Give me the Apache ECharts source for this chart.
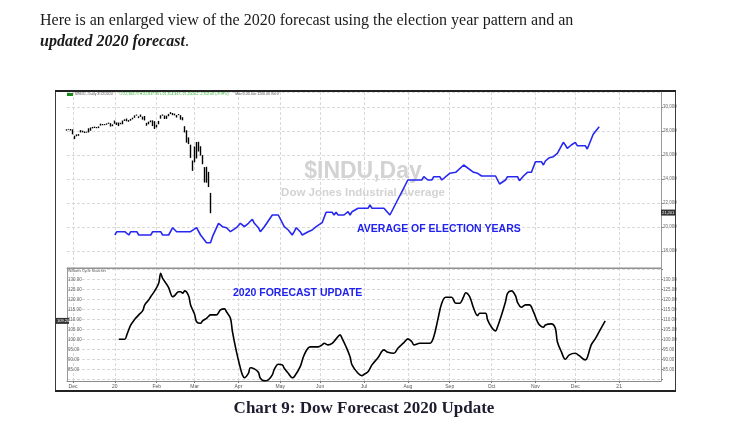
<!DOCTYPE html>
<html><head><meta charset="utf-8">
<script src="https://cdn.jsdelivr.net/npm/echarts@6/dist/echarts.min.js"></script>
<style>html,body{margin:0;padding:0;background:#fff;}#c{width:735px;height:431px;}</style>
</head><body><div id="c"></div>
<script>
// ---------------- DATA ----------------
const monthNames = ['Jan','Feb','Mar','Apr','May','Jun','Jul','Aug','Sep','Oct','Nov','Dec'];
const marketHolidays = ['2019-11-28','2019-12-25','2020-01-01','2020-01-20','2020-02-17','2020-04-10',
  '2020-05-25','2020-07-03','2020-09-07','2020-11-26','2020-12-25','2021-01-01','2021-01-18'];
const axisFirstDay = '2019-11-26';
const axisLastDay = '2021-02-03';
const lastLabelledMonth = '2021-01';

// $INDU daily bars, consecutive trading days starting 2019-11-26
const dowOpen  = [28050,28140,28150,28110,27600,27580,27710,27880,28010,27900,27880,27920,28190,28250,28270,28290,28250,28460,28520,28570,28540,28690,28640,28420,
  28640,28630,28470,28640,28560,28850,29030,28850,28860,28990,29110,29330,29170,29260,29100,29210,28650,28600,28820,28640,28810,
  28320,28560,29050,29300,29280,29020,29360,29420,29440,29440,29280,29330,29270,29150,28400,28000,27150,26530,24980,
  25590,26760,26380,26600,25460,24990,24450,24600,22190];
const dowHigh  = [28145,28175,28165,28140,27610,27720,27740,28070,28030,27960,27950,28225,28290,28340,28370,28330,28380,28610,28580,28580,28630,28700,28650,28550,
  28870,28710,28710,28690,28870,28970,29040,28910,29010,29110,29300,29370,29220,29370,29200,29250,28680,28780,28880,28890,28820,
  28520,28840,29310,29380,29290,29280,29420,29570,29500,29450,29330,29410,29320,29150,28400,28060,27470,26860,25540,
  26710,27080,27100,26730,25990,24990,25020,24600,22840];
const dowLow   = [28030,28110,28035,27720,27325,27560,27600,27880,27890,27830,27860,27880,28020,28220,28250,28230,28240,28450,28480,28490,28520,28600,28370,28400,
  28600,28500,28410,28560,28560,28840,28810,28770,28860,28970,29100,29280,29070,29180,28950,28880,28440,28560,28730,28410,28170,
  28300,28560,29030,29270,29000,29010,29230,29410,29320,29300,29120,29320,28950,28890,27880,27030,26910,25760,24680,
  25390,25710,26290,25950,25230,23710,23690,23330,21150];
const dowClose = [28121,28164,28051,27783,27503,27650,27677,28015,27909,27881,27911,28132,28135,28235,28267,28239,28377,28455,28551,28515,28621,28645,28462,28538,
  28868,28634,28703,28583,28745,28956,28824,28907,28940,29030,29297,29348,29196,29186,29160,28990,28535,28723,28734,28859,28256,
  28399,28808,29290,29380,29103,29276,29276,29551,29423,29398,29232,29348,29219,28992,27961,27081,26957,25766,25409,
  26703,25917,27091,26121,25865,23851,25018,23553,21201];

// Average of election years (plotted on the $INDU scale)
const electionAvg = [
 ['2020-01-02',19333],['2020-01-03',19608],['2020-01-09',19608],['2020-01-13',19333],['2020-01-14',19608],['2020-01-17',19608],
 ['2020-01-21',19333],['2020-01-29',19333],['2020-01-30',19608],['2020-02-05',19608],['2020-02-06',19333],['2020-02-11',19333],
 ['2020-02-13',19942],['2020-02-18',19608],['2020-02-27',19608],['2020-03-03',19942],['2020-03-05',19333],['2020-03-10',18692],
 ['2020-03-12',18692],['2020-03-13',19192],['2020-03-18',20308],['2020-03-19',20308],['2020-03-20',20025],['2020-03-24',19942],
 ['2020-03-26',19608],['2020-03-27',19608],['2020-03-31',19942],['2020-04-02',20308],['2020-04-03',20308],['2020-04-06',20025],
 ['2020-04-08',20308],['2020-04-13',20642],['2020-04-14',20308],['2020-04-16',19942],['2020-04-17',19608],['2020-04-21',20025],
 ['2020-04-27',21000],['2020-04-30',21000],['2020-05-05',20025],['2020-05-07',19750],['2020-05-11',19333],['2020-05-12',19608],
 ['2020-05-13',19942],['2020-05-15',19608],['2020-05-18',19333],['2020-05-21',19608],['2020-05-26',19750],['2020-05-28',20025],
 ['2020-06-02',20358],['2020-06-04',21225],['2020-06-09',21225],['2020-06-10',21000],['2020-06-11',21225],['2020-06-12',21000],
 ['2020-06-17',21000],['2020-06-19',21275],['2020-06-22',21000],['2020-06-23',21275],['2020-06-26',21558],['2020-07-06',21558],
 ['2020-07-07',21833],['2020-07-08',21558],['2020-07-16',21558],['2020-07-21',21000],['2020-07-22',21142],['2020-08-03',23917],
 ['2020-08-04',23917],['2020-08-12',23917],['2020-08-13',24192],['2020-08-17',23917],['2020-08-19',23917],['2020-08-20',24192],
 ['2020-08-25',24192],['2020-08-26',23917],['2020-09-01',24475],['2020-09-04',24558],['2020-09-11',25167],['2020-09-14',25108],
 ['2020-09-18',24558],['2020-09-22',24475],['2020-09-24',24250],['2020-10-05',24250],['2020-10-07',23583],['2020-10-08',23583],
 ['2020-10-12',23917],['2020-10-13',24192],['2020-10-20',24192],['2020-10-21',23858],['2020-10-23',24250],['2020-10-27',24558],
 ['2020-10-29',24558],['2020-11-02',25442],['2020-11-05',25442],['2020-11-06',25167],['2020-11-09',25500],['2020-11-11',25775],
 ['2020-11-13',25858],['2020-11-17',26142],['2020-11-20',27058],['2020-11-23',26833],['2020-11-24',26558],['2020-11-27',26833],
 ['2020-12-01',27058],['2020-12-02',26775],['2020-12-08',26775],['2020-12-09',26500],['2020-12-10',26558],['2020-12-14',27725],
 ['2020-12-15',27808],['2020-12-17',28358]
];

// 2020 forecast update (Williams Cycle Searcher)
const forecast2020 = [
 ['2020-01-06',100.0],['2020-01-09',100.0],['2020-01-10',102.2],['2020-01-14',107.2],['2020-01-16',110.0],['2020-01-21',112.2],
 ['2020-01-23',114.3],['2020-01-24',117.2],['2020-01-28',119.7],['2020-01-29',121.3],['2020-01-31',124.2],['2020-02-04',128.0],
 ['2020-02-05',133.0],['2020-02-06',130.5],['2020-02-10',127.5],['2020-02-11',125.8],['2020-02-13',121.3],['2020-02-14',121.8],
 ['2020-02-19',123.8],['2020-02-20',123.8],['2020-02-21',123.0],['2020-02-24',124.2],['2020-02-26',121.8],['2020-02-27',117.2],
 ['2020-03-02',112.5],['2020-03-03',108.8],['2020-03-05',108.0],['2020-03-06',109.2],['2020-03-10',110.5],['2020-03-11',111.5],
 ['2020-03-12',112.2],['2020-03-17',112.2],['2020-03-19',114.7],['2020-03-23',115.2],['2020-03-24',113.8],['2020-03-26',110.5],
 ['2020-03-27',103.8],['2020-03-31',93.8],['2020-04-02',85.5],['2020-04-03',82.2],['2020-04-06',80.8],['2020-04-08',83.0],
 ['2020-04-09',85.8],['2020-04-14',85.2],['2020-04-16',83.5],['2020-04-17',80.5],['2020-04-21',79.2],['2020-04-23',79.7],
 ['2020-04-27',82.2],['2020-04-28',85.0],['2020-04-30',87.5],['2020-05-04',87.2],['2020-05-05',85.5],['2020-05-07',83.0],
 ['2020-05-11',80.8],['2020-05-12',81.3],['2020-05-15',86.3],['2020-05-19',92.2],['2020-05-22',96.2],['2020-05-29',96.2],
 ['2020-06-02',97.2],['2020-06-03',98.0],['2020-06-05',97.2],['2020-06-09',98.0],['2020-06-11',100.2],['2020-06-15',102.2],
 ['2020-06-16',100.5],['2020-06-18',96.3],['2020-06-22',91.3],['2020-06-23',87.2],['2020-06-26',83.0],['2020-06-30',81.8],
 ['2020-07-01',82.5],['2020-07-06',83.8],['2020-07-08',87.2],['2020-07-13',90.8],['2020-07-16',94.7],['2020-07-20',93.5],
 ['2020-07-23',93.0],['2020-07-27',95.5],['2020-07-30',98.3],['2020-08-03',100.2],['2020-08-05',98.8],['2020-08-06',97.2],
 ['2020-08-11',98.0],['2020-08-18',98.0],['2020-08-20',101.3],['2020-08-24',109.7],['2020-08-26',118.0],['2020-08-28',121.0],
 ['2020-09-02',121.0],['2020-09-04',118.0],['2020-09-09',118.0],['2020-09-11',121.3],['2020-09-14',123.3],['2020-09-16',121.3],
 ['2020-09-18',115.5],['2020-09-22',111.8],['2020-09-23',113.0],['2020-09-28',113.0],['2020-09-29',109.7],['2020-10-01',106.0],
 ['2020-10-05',104.2],['2020-10-06',106.3],['2020-10-08',112.2],['2020-10-12',118.8],['2020-10-13',123.0],['2020-10-15',124.2],
 ['2020-10-19',121.8],['2020-10-20',118.5],['2020-10-22',116.0],['2020-10-26',117.2],['2020-10-28',117.2],['2020-10-30',113.8],
 ['2020-11-03',108.8],['2020-11-04',107.2],['2020-11-06',106.0],['2020-11-09',107.2],['2020-11-12',107.7],['2020-11-16',105.5],
 ['2020-11-17',98.8],['2020-11-19',93.8],['2020-11-23',90.0],['2020-11-25',92.2],['2020-12-01',93.0],['2020-12-03',91.8],
 ['2020-12-08',89.7],['2020-12-09',90.8],['2020-12-11',97.2],['2020-12-15',100.2],['2020-12-17',103.8],['2020-12-22',109.2]
];

const introLine1 = 'Here is an enlarged view of the 2020 forecast using the election year pattern and an';
const introLine2 = 'updated 2020 forecast';
const captionText = 'Chart 9: Dow Forecast 2020 Update';
const headerText = '$INDU - Daily 3/12/2020';
const headerQuote = 'O:22,184.71 H:22,837.95 L:21,154.46 C:21,200.62 -2,352.60 (-9.99%)';
const headerRest = 'Mov:0.00 Jan:1200.00 Vol:0';
const watermark1 = '$INDU,Day';
const watermark2 = 'Dow Jones Industrial Average';
const note1 = 'AVERAGE OF ELECTION YEARS';
const note2 = '2020 FORECAST UPDATE';
const panel2Name = 'Williams Cycle Searcher';

// ---------------- BUILD ----------------
function buildTradingDays(first, last, holidays) {
  const out = [];
  const d = new Date(first + 'T00:00:00Z');
  const e = new Date(last + 'T00:00:00Z');
  while (d <= e) {
    const wd = d.getUTCDay();
    const s = d.toISOString().slice(0, 10);
    if (wd !== 0 && wd !== 6 && holidays.indexOf(s) < 0) out.push(s);
    d.setUTCDate(d.getUTCDate() + 1);
  }
  return out;
}
const days = buildTradingDays(axisFirstDay, axisLastDay, marketHolidays);
const isMonthStart = (i) => i > 0 && days[i].slice(0, 7) !== days[i - 1].slice(0, 7) && days[i].slice(0, 7) <= lastLabelledMonth;
const monthTick = (i) => isMonthStart(i);
const monthLabel = (v) => { const m = +v.slice(5, 7); return m === 1 ? v.slice(2, 4) : monthNames[m - 1]; };

const dowBars = dowClose.map((c, i) => [dowOpen[i], c, dowLow[i], dowHigh[i]]);

const gridColor = '#d9d9d9';
const dashed = { color: gridColor, type: [3, 2], width: 1 };

const chart = echarts.init(document.getElementById('c'), null, { renderer: 'canvas', width: 735, height: 431 });

const option = {
  animation: false,
  backgroundColor: '#ffffff',
  grid: [
    { left: 67, top: 92, width: 594, height: 176 },
    { left: 67, top: 268, width: 594, height: 113 }
  ],
  xAxis: [
    { type: 'category', gridIndex: 0, data: days, boundaryGap: false,
      axisLine: { show: true, lineStyle: { color: '#9a9a9a', width: 1 } },
      axisTick: { show: false }, axisLabel: { show: false },
      splitLine: { show: true, interval: monthTick, lineStyle: dashed } },
    { type: 'category', gridIndex: 1, data: days, boundaryGap: false,
      axisLine: { show: true, lineStyle: { color: '#8a8a8a', width: 1 } },
      axisTick: { show: true, interval: monthTick, length: 2, lineStyle: { color: '#777' } },
      axisLabel: { interval: monthTick, formatter: monthLabel, fontSize: 5, color: '#555', margin: 3, fontFamily: 'Liberation Sans' },
      splitLine: { show: true, interval: monthTick, lineStyle: dashed } }
  ],
  yAxis: [
    { type: 'value', gridIndex: 0, position: 'right', min: 16583, max: 31250, splitNumber: 7,
      axisLine: { show: true, lineStyle: { color: '#9a9a9a' } },
      axisTick: { show: true, length: 2, lineStyle: { color: '#888' } },
      axisLabel: { fontSize: 4.5, color: '#666', margin: 2, showMinLabel: false, showMaxLabel: false, fontFamily: 'Liberation Sans',
        formatter: (v) => v.toLocaleString('en-US') },
      splitLine: { show: true, lineStyle: dashed } },
    { type: 'value', gridIndex: 1, position: 'right', min: 79.15, max: 135.65, splitNumber: 11,
      axisLine: { show: true, lineStyle: { color: '#9a9a9a' } },
      axisTick: { show: true, length: 2, lineStyle: { color: '#888' } },
      axisLabel: { fontSize: 4.5, color: '#666', margin: 2, showMinLabel: false, showMaxLabel: false, fontFamily: 'Liberation Sans',
        formatter: (v) => (v >= 85 && v <= 130 ? v.toFixed(2) : '') },
      splitLine: { show: true, lineStyle: dashed } },
    { type: 'value', gridIndex: 1, position: 'left', min: 79.15, max: 135.65, splitNumber: 11,
      axisLine: { show: true, lineStyle: { color: '#9a9a9a' } },
      axisTick: { show: false },
      axisLabel: { inside: true, fontSize: 4.5, color: '#666', margin: 1, showMinLabel: false, showMaxLabel: false, fontFamily: 'Liberation Sans',
        formatter: (v) => (v >= 85 && v <= 130 ? v.toFixed(2) : '') },
      splitLine: { show: false } }
  ],
  series: [
    { type: 'candlestick', name: '$INDU', xAxisIndex: 0, yAxisIndex: 0, data: dowBars, barWidth: 0.6, z: 3,
      itemStyle: { color: '#000', color0: '#000', borderColor: '#000', borderColor0: '#000', borderWidth: 1.4 } },
    { type: 'line', name: 'Average of election years', xAxisIndex: 0, yAxisIndex: 0, data: electionAvg,
      showSymbol: false, z: 4, lineStyle: { color: '#2727f2', width: 1.6 } },
    { type: 'line', name: '2020 forecast update', xAxisIndex: 1, yAxisIndex: 1, data: forecast2020,
      showSymbol: false, smooth: 0.35, z: 4, lineStyle: { color: '#000', width: 1.6 } }
  ]
};
chart.setOption(option);

const lastClose = dowClose[dowClose.length - 1];
const priceY = chart.convertToPixel({ yAxisIndex: 0 }, lastClose);
const cycY = chart.convertToPixel({ yAxisIndex: 2 }, 109.2);

const serif = "'Liberation Serif', 'Times New Roman', serif";
const sans = "'Liberation Sans', Arial, sans-serif";
chart.setOption({
  graphic: [
    { type: 'text', z: 50, style: { x: 40, y: 21, text: introLine1, font: '16px ' + serif, fill: '#1a1a1a', textVerticalAlign: 'middle', verticalAlign: 'middle' } },
    { type: 'text', z: 50, style: { x: 40, y: 42, text: '{a|' + introLine2 + '}{b|.}', fill: '#1a1a1a', textVerticalAlign: 'middle', verticalAlign: 'middle',
        rich: { a: { font: 'italic bold 16px ' + serif, fill: '#1a1a1a' }, b: { font: '16px ' + serif, fill: '#1a1a1a' } } } },
    // frame
    { type: 'rect', z: 40, shape: { x: 55.5, y: 90.5, width: 620, height: 301 }, style: { fill: 'none', stroke: '#3a3a3a', lineWidth: 1 } },
    { type: 'line', z: 41, shape: { x1: 55, y1: 91, x2: 676, y2: 91 }, style: { stroke: '#222', lineWidth: 2 } },
    { type: 'line', z: 41, shape: { x1: 55, y1: 391, x2: 676, y2: 391 }, style: { stroke: '#222', lineWidth: 2 } },
    { type: 'line', z: 41, shape: { x1: 67, y1: 268, x2: 661, y2: 268 }, style: { stroke: '#8a8a8a', lineWidth: 1 } },
    // header of price panel
    { type: 'rect', z: 45, shape: { x: 67, y: 93, width: 6, height: 3 }, style: { fill: '#1a8a1a' } },
    { type: 'text', z: 45, style: { x: 75, y: 94.5, text: '{g|' + headerText + '}  {h|' + headerQuote + '}  {g|' + headerRest + '}', verticalAlign: 'middle', textVerticalAlign: 'middle',
        rich: { g: { font: '3.5px ' + sans, fill: '#555' }, h: { font: '3.5px ' + sans, fill: '#2fb82f' } } } },
    { type: 'text', z: 45, style: { x: 68, y: 271, text: panel2Name, font: '3.5px ' + sans, fill: '#555', verticalAlign: 'middle', textVerticalAlign: 'middle' } },
    // watermark
    { type: 'text', z: 1, style: { x: 363, y: 172, text: watermark1, font: 'bold 23px ' + sans, fill: '#d3d3d3', textAlign: 'center', align: 'center', verticalAlign: 'middle', textVerticalAlign: 'middle' } },
    { type: 'text', z: 1, style: { x: 363, y: 193, text: watermark2, font: 'bold 11.5px ' + sans, fill: '#d3d3d3', textAlign: 'center', align: 'center', verticalAlign: 'middle', textVerticalAlign: 'middle' } },
    // notes
    { type: 'text', z: 45, style: { x: 357, y: 229.5, text: note1, font: 'bold 10.5px ' + sans, fill: '#2222ee', verticalAlign: 'middle', textVerticalAlign: 'middle' } },
    { type: 'text', z: 45, style: { x: 233, y: 293.5, text: note2, font: 'bold 10.5px ' + sans, fill: '#2222ee', verticalAlign: 'middle', textVerticalAlign: 'middle' } },
    // last price tags
    { type: 'rect', z: 46, shape: { x: 661, y: priceY - 3, width: 14, height: 6 }, style: { fill: '#333' } },
    { type: 'text', z: 47, style: { x: 662, y: priceY, text: lastClose.toLocaleString('en-US'), font: '4px ' + sans, fill: '#fff', verticalAlign: 'middle', textVerticalAlign: 'middle' } },
    { type: 'rect', z: 46, shape: { x: 56, y: cycY - 3, width: 13, height: 6 }, style: { fill: '#333' } },
    { type: 'text', z: 47, style: { x: 57, y: cycY, text: '109.20', font: '4px ' + sans, fill: '#fff', verticalAlign: 'middle', textVerticalAlign: 'middle' } },
    // caption
    { type: 'text', z: 50, style: { x: 364, y: 409, text: captionText, font: 'bold 17px ' + serif, fill: '#1c1c2e', textAlign: 'center', align: 'center', verticalAlign: 'middle', textVerticalAlign: 'middle' } }
  ]
});
</script>
</body></html>
